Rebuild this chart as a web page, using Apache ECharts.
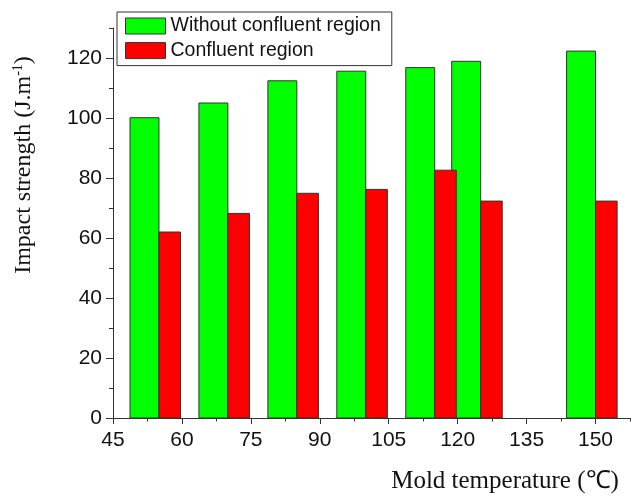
<!DOCTYPE html>
<html><head><meta charset="utf-8">
<script src="https://cdn.jsdelivr.net/npm/echarts@6/dist/echarts.min.js"></script>
<style>html,body{margin:0;padding:0;background:#fff}#c{width:638px;height:496px}</style>
</head><body><div id="c"></div>
<script>
// Mold temperature positions of each bar pair (boundary between green and red bar)
const temps = [55, 70, 85, 100, 115, 125, 150];
const withoutConfluent = [100.1, 105.0, 112.4, 115.6, 116.8, 118.9, 122.3];
const confluent = [62.0, 68.2, 74.9, 76.2, 82.6, 72.3, 72.3];
const xTickLabels = [45, 60, 75, 90, 105, 120, 135, 150];
const yTickLabels = [0, 20, 40, 60, 80, 100, 120];
const seriesNames = ['Without confluent region', 'Confluent region'];

const GREEN_W = 6.3, RED_W = 4.7;
const AXIS_COLOR = '#333';
const SANS = '"Liberation Sans", Arial, sans-serif';
const SERIF = '"Liberation Serif", "Times New Roman", serif';

function barRenderer(side, w, fill) {
  return function (params, api) {
    const x = api.value(0), y = api.value(1);
    const xa = side === 'left' ? x - w : x;
    const xb = side === 'left' ? x : x + w;
    const p0 = api.coord([xa, y]);
    const p1 = api.coord([xb, 0]);
    return {
      type: 'rect',
      shape: { x: p0[0], y: p0[1], width: p1[0] - p0[0], height: p1[1] - p0[1] },
      style: { fill: fill, stroke: AXIS_COLOR, lineWidth: 1 }
    };
  };
}

const chart = echarts.init(document.getElementById('c'), null, { renderer: 'canvas' });
chart.setOption({
  animation: false,
  backgroundColor: '#fff',
  grid: { left: 113, top: 28, right: 8, bottom: 78, containLabel: false },
  legend: {
    orient: 'vertical', left: 117, top: 12,
    padding: [4, 11, 5, 8], itemGap: 4.6,
    itemWidth: 40, itemHeight: 16, icon: 'rect',
    borderColor: AXIS_COLOR, borderWidth: 1,
    textStyle: { fontSize: 19.5, color: '#111', fontFamily: SANS, lineHeight: 18 },
    data: [
      { name: seriesNames[0], itemStyle: { color: '#00ff00', borderColor: AXIS_COLOR, borderWidth: 1 } },
      { name: seriesNames[1], itemStyle: { color: '#ff0000', borderColor: AXIS_COLOR, borderWidth: 1 } }
    ]
  },
  xAxis: [
    {
      type: 'value', min: 45, max: 157.5, interval: 15, position: 'bottom',
      axisLine: { show: true, onZero: false, lineStyle: { color: AXIS_COLOR, width: 1 } },
      axisTick: { show: true, length: 6, customValues: xTickLabels, lineStyle: { color: AXIS_COLOR } },
      axisLabel: { customValues: xTickLabels, fontSize: 21, color: '#111', margin: 12, fontFamily: SANS },
      splitLine: { show: false }
    },
    {
      type: 'value', min: 45, max: 157.5, interval: 7.5, position: 'bottom',
      axisLine: { show: false },
      axisTick: { show: true, length: 3.5, lineStyle: { color: AXIS_COLOR } },
      axisLabel: { show: false }, splitLine: { show: false }
    }
  ],
  yAxis: [
    {
      type: 'value', min: 0, max: 130, interval: 20, position: 'left',
      axisLine: { show: true, onZero: false, lineStyle: { color: AXIS_COLOR, width: 1 } },
      axisTick: { show: true, length: 7, customValues: yTickLabels, lineStyle: { color: AXIS_COLOR } },
      axisLabel: { customValues: yTickLabels, fontSize: 21, color: '#111', margin: 11, fontFamily: SANS },
      splitLine: { show: false }
    },
    {
      type: 'value', min: 0, max: 130, interval: 10, position: 'left',
      axisLine: { show: false },
      axisTick: { show: true, length: 4, lineStyle: { color: AXIS_COLOR } },
      axisLabel: { show: false }, splitLine: { show: false }
    }
  ],
  graphic: [
    {
      type: 'text', x: 24, y: 165, rotation: Math.PI / 2,
      style: {
        text: 'Impact strength (J.m{sup|-1})',
        font: '24px ' + SERIF, fill: '#111',
        align: 'center', verticalAlign: 'middle',
        lineHeight: 26,
        rich: { sup: { fontSize: 14, fontFamily: SERIF, fill: '#111', verticalAlign: 'top', lineHeight: 26 } }
      }
    },
    {
      type: 'text', x: 505, y: 481,
      style: {
        text: 'Mold temperature (℃)',
        font: '25px ' + SERIF, fill: '#111',
        align: 'center', verticalAlign: 'middle'
      }
    }
  ],
  series: [
    {
      name: seriesNames[0], type: 'custom', xAxisIndex: 0, yAxisIndex: 0,
      itemStyle: { color: '#00ff00', borderColor: AXIS_COLOR, borderWidth: 1 },
      encode: { x: 0, y: 1 },
      renderItem: barRenderer('left', GREEN_W, '#00ff00'),
      data: temps.map((t, i) => [t, withoutConfluent[i]])
    },
    {
      name: seriesNames[1], type: 'custom', xAxisIndex: 0, yAxisIndex: 0,
      itemStyle: { color: '#ff0000', borderColor: AXIS_COLOR, borderWidth: 1 },
      encode: { x: 0, y: 1 },
      renderItem: barRenderer('right', RED_W, '#ff0000'),
      data: temps.map((t, i) => [t, confluent[i]])
    }
  ]
});
</script>
</body></html>
